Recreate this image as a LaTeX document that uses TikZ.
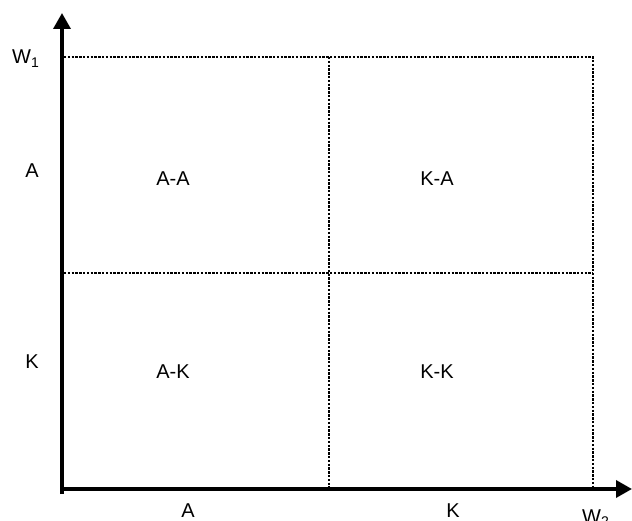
\documentclass[tikz,border=0pt]{standalone}
\usepackage{fontspec}
\setmainfont{Liberation Sans}
\usetikzlibrary{arrows.meta}
\begin{document}
\begin{tikzpicture}[x=1pt,y=-1pt,
	axis/.style={line width=3.5pt,-{Triangle[width=17pt,length=16pt]}},
	grid/.style={line width=2.4pt,dash pattern=on 2.4pt off 1.4pt},
	every node/.style={inner sep=0,font=\fontsize{20}{24}\selectfont}]
	\useasboundingbox (0,0) rectangle (632,521);
	\coordinate (o) at (62,489);
	\coordinate (ybot) at (62,494);
	\coordinate (ytip) at (62,13);
	\coordinate (xtip) at (632,489);
	\coordinate (tl) at (64,57); \coordinate (tm) at (329,57); \coordinate (tr) at (593,57);
	\coordinate (ml) at (64,273); \coordinate (mr) at (593,273);
	\coordinate (bm) at (329,488); \coordinate (br) at (593,488);
	\draw[grid] (tl) -- (tr) -- (br);
	\draw[grid] (ml) -- (mr);
	\draw[grid] (tm) -- (bm);
	\draw[axis] (ybot) -- (ytip);
	\draw[axis] (o) -- (xtip);
	\node[anchor=base west] (w1) at (12,64) {W\textsubscript{1}};
	\node[anchor=base] (ya) at (32,178) {A};
	\node[anchor=base] (yk) at (32,369) {K};
	\node[anchor=base] (xa) at (188,517) {A};
	\node[anchor=base] (xk) at (453,517) {K};
	\node[anchor=base west] (w2) at (582,523) {W\textsubscript{2}};
	\node[anchor=base] (aa) at (173,186) {A-A};
	\node[anchor=base] (ka) at (437,186) {K-A};
	\node[anchor=base] (ak) at (173,378) {A-K};
	\node[anchor=base] (kk) at (437,378) {K-K};
\end{tikzpicture}
\end{document}
